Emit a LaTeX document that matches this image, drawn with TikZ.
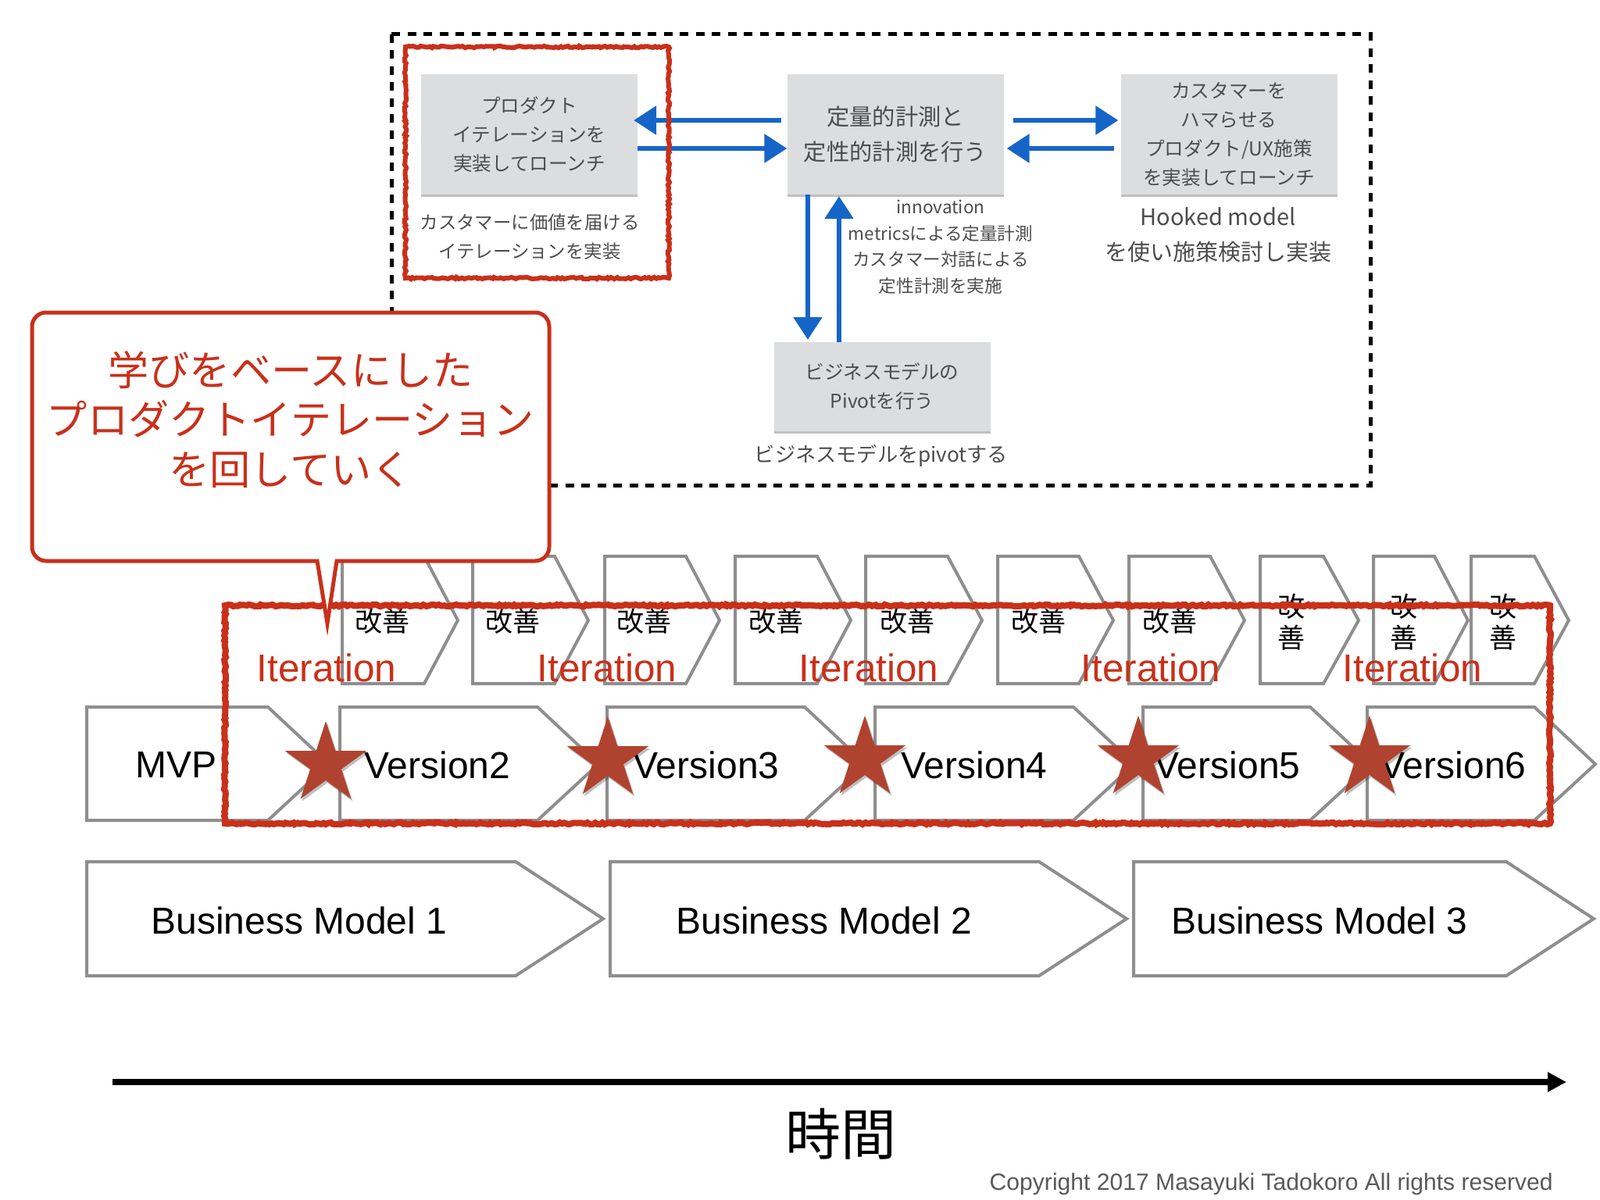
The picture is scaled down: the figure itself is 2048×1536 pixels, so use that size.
\documentclass[tikz,border=0pt]{standalone}
\usepackage{fontspec}
\setmainfont{Liberation Sans}
\newfontfamily\jp{Noto Sans CJK JP}
\usetikzlibrary{arrows.meta,shapes.geometric,shadows,decorations.pathmorphing}
\definecolor{redline}{HTML}{C9301A}
\definecolor{bluearrow}{HTML}{1565C8}
\definecolor{chevgrey}{HTML}{8E8E8E}
\definecolor{boxgrey}{HTML}{DCDDDF}
\definecolor{stargrey}{HTML}{B0432F}
\tikzset{
  greybox/.style={fill=boxgrey,inner sep=0pt,align=center,text=black!70,minimum height=154pt,minimum width=277pt,
    drop shadow={shadow xshift=0pt,shadow yshift=-3pt,fill=black,opacity=.25},font=\jp\fontsize{24.6}{37}\selectfont},
  greynote/.style={align=center,text=black!70,inner sep=0pt,font=\jp\fontsize{23.4}{37}\selectfont},
  bluelink/.style={bluearrow,line width=6pt,-{Triangle[length=29pt,width=36pt]}},
  chevron/.style={chevgrey,line width=4pt,line join=miter},
  roughbox/.style={redline,line width=8pt,decorate,decoration={random steps,segment length=3pt,amplitude=1.2pt}},
  kaizen/.style={inner sep=0pt,font=\jp\fontsize{35}{40}\selectfont},
  version/.style={inner sep=0pt,font=\fontsize{48}{50}\selectfont},
  iter/.style={inner sep=0pt,text=redline,font=\fontsize{49.5}{50}\selectfont},
  redstar/.style={star,star points=5,star point ratio=2.618,fill=stargrey,inner sep=0pt,minimum size=110pt,
    drop shadow={shadow xshift=2pt,shadow yshift=-3pt,fill=black,opacity=.25}}
}
\begin{document}
\begin{tikzpicture}[x=1pt,y=-1pt]
  \useasboundingbox (0,0) rectangle (2048,1536);
  \draw[black,line width=5pt,dash pattern=on 11pt off 9.5pt] (501,44) rectangle (1754,621);
  \node[greybox] (product) at (677.5,172) {プロダクト\\イテレーションを\\実装してローンチ};
  \node[greybox,font=\jp\fontsize{29.3}{45}\selectfont] (measure) at (1146,172) {定量的計測と\\定性的計測を行う};
  \node[greybox] (hooked) at (1573,172) {カスタマーを\\ハマらせる\\プロダクト/UX施策\\を実装してローンチ};
  \node[greybox,minimum height=114pt] (pivot) at (1129,495) {ビジネスモデルの\\Pivotを行う};
  \node[greynote] (productnote) at (678,303) {カスタマーに価値を届ける\\イテレーションを実装};
  \node[greynote,font=\jp\fontsize{22.6}{33.5}\selectfont] (measurenote) at (1204,316) {innovation\\metricsによる定量計測\\カスタマー対話による\\定性計測を実施};
  \node[greynote,font=\jp\fontsize{29}{45}\selectfont] (hookednote) at (1559,301) {Hooked model\\を使い施策検討し実装};
  \node[greynote,font=\jp\fontsize{26.2}{37}\selectfont] (pivotnote) at (1128,583) {ビジネスモデルをpivotする};
  \draw[bluelink] ([yshift=18pt,xshift=-7pt]measure.west) -- ([yshift=18pt,xshift=-5pt]product.east);
  \draw[bluelink] ([yshift=-18pt]product.east) -- ([yshift=-18pt]measure.west);
  \draw[bluelink] ([yshift=18pt,xshift=12pt]measure.east) -- ([yshift=18pt,xshift=-3pt]hooked.west);
  \draw[bluelink] ([yshift=-18pt,xshift=-8pt]hooked.west) -- ([yshift=-18pt,xshift=4pt]measure.east);
  \draw[bluelink] ([xshift=-112pt]measure.south) -- ([xshift=-95pt,yshift=3pt]pivot.north);
  \draw[bluelink] ([xshift=-55pt]pivot.north) -- ([xshift=-72pt,yshift=-2pt]measure.south);
  \draw[roughbox,line width=6pt] (519,60) rectangle (856,356);

  \draw[chevron] (438,712) -- (543,712) -- (586,794) -- (543,875) -- (438,875) -- cycle;
  \draw[chevron] (605,712) -- (710,712) -- (753,794) -- (710,875) -- (605,875) -- cycle;
  \draw[chevron] (774,712) -- (878,712) -- (921,794) -- (878,875) -- (774,875) -- cycle;
  \draw[chevron] (941,712) -- (1046,712) -- (1089,794) -- (1046,875) -- (941,875) -- cycle;
  \draw[chevron] (1108,712) -- (1213,712) -- (1257,794) -- (1213,875) -- (1108,875) -- cycle;
  \draw[chevron] (1277,712) -- (1381,712) -- (1425,794) -- (1381,875) -- (1277,875) -- cycle;
  \draw[chevron] (1445,712) -- (1549,712) -- (1593,794) -- (1549,875) -- (1445,875) -- cycle;
  \draw[chevron] (1613,712) -- (1694,712) -- (1739,794) -- (1694,875) -- (1613,875) -- cycle;
  \draw[chevron] (1758,712) -- (1836,712) -- (1879,794) -- (1836,875) -- (1758,875) -- cycle;
  \draw[chevron] (1883,712) -- (1964,712) -- (2008,794) -- (1964,875) -- (1883,875) -- cycle;
  \node[kaizen] (k1) at (489,795) {改善};
  \node[kaizen] (k2) at (656,795) {改善};
  \node[kaizen] (k3) at (824,795) {改善};
  \node[kaizen] (k4) at (993,795) {改善};
  \node[kaizen] (k5) at (1161,795) {改善};
  \node[kaizen] (k6) at (1329,795) {改善};
  \node[kaizen] (k7) at (1497,795) {改善};
  \node[kaizen,align=center] (k8) at (1653,796) {改\\善};
  \node[kaizen,align=center] (k9) at (1797,796) {改\\善};
  \node[kaizen,align=center] (k10) at (1924,796) {改\\善};

  \draw[chevron] (111,905) -- (343,905) -- (421,978) -- (343,1050) -- (111,1050) -- cycle;
  \draw[chevron] (435,905) -- (688,905) -- (766,978) -- (688,1050) -- (435,1050) -- cycle;
  \draw[chevron] (777,905) -- (1030,905) -- (1108,978) -- (1030,1050) -- (777,1050) -- cycle;
  \draw[chevron] (1120,905) -- (1374,905) -- (1452,978) -- (1374,1050) -- (1120,1050) -- cycle;
  \draw[chevron] (1463,905) -- (1677,905) -- (1755,978) -- (1677,1050) -- (1463,1050) -- cycle;
  \draw[chevron] (1750,905) -- (1964,905) -- (2042,978) -- (1964,1050) -- (1750,1050) -- cycle;
  \node[version] (mvp) at (226,979) {MVP};
  \node[version] (v2) at (560,979) {Version2};
  \node[version] (v3) at (904,979) {Version3};
  \node[version] (v4) at (1247,979) {Version4};
  \node[version] (v5) at (1571,979) {Version5};
  \node[version] (v6) at (1860,979) {Version6};
  \node[redstar] (s1) at (417,978) {};
  \node[redstar] (s2) at (778,972) {};
  \node[redstar] (s3) at (1107,971) {};
  \node[redstar] (s4) at (1457,971) {};
  \node[redstar] (s5) at (1753,971) {};
  \node[iter] (i1) at (418,855) {Iteration};
  \node[iter] (i2) at (777,855) {Iteration};
  \node[iter] (i3) at (1112,855) {Iteration};
  \node[iter] (i4) at (1473,855) {Iteration};
  \node[iter] (i5) at (1808,855) {Iteration};
  \draw[roughbox] (288,775) rectangle (1984,1054);

  \draw[chevron] (111,1103) -- (660,1103) -- (772,1176) -- (660,1249) -- (111,1249) -- cycle;
  \draw[chevron] (781,1103) -- (1330,1103) -- (1442,1176) -- (1330,1249) -- (781,1249) -- cycle;
  \draw[chevron] (1451,1103) -- (1928,1103) -- (2040,1176) -- (1928,1249) -- (1451,1249) -- cycle;
  \node[version] (bm1) at (383,1178) {Business Model 1};
  \node[version] (bm2) at (1055,1178) {Business Model 2};
  \node[version] (bm3) at (1689,1178) {Business Model 3};

  \draw[redline,line width=5pt,fill=white] (431,718) -- (419,798) -- (406,718) [rounded corners=18pt] -- (41,718) -- (41,400) -- (703,400) -- (703,718) [sharp corners] -- cycle;
  \node[inner sep=0pt,align=center,text=redline,font=\jp\fontsize{52.2}{63.5}\selectfont] (learn) at (372,537) {学びをベースにした\\プロダクトイテレーション\\を回していく};

  \coordinate (timestart) at (144,1385);
  \coordinate (timeend) at (2005,1385);
  \draw[black,line width=8pt,-{Triangle[length=24pt,width=24pt]}] (timestart) -- (timeend);
  \node[inner sep=0pt,font=\jp\fontsize{71}{72}\selectfont] (time) at (1076,1452) {時間};
  \node[inner sep=0pt,anchor=east,text=black!65,font=\fontsize{30.1}{32}\selectfont] (copyright) at (1988,1516) {Copyright 2017 Masayuki Tadokoro All rights reserved};
\end{tikzpicture}
\end{document}
